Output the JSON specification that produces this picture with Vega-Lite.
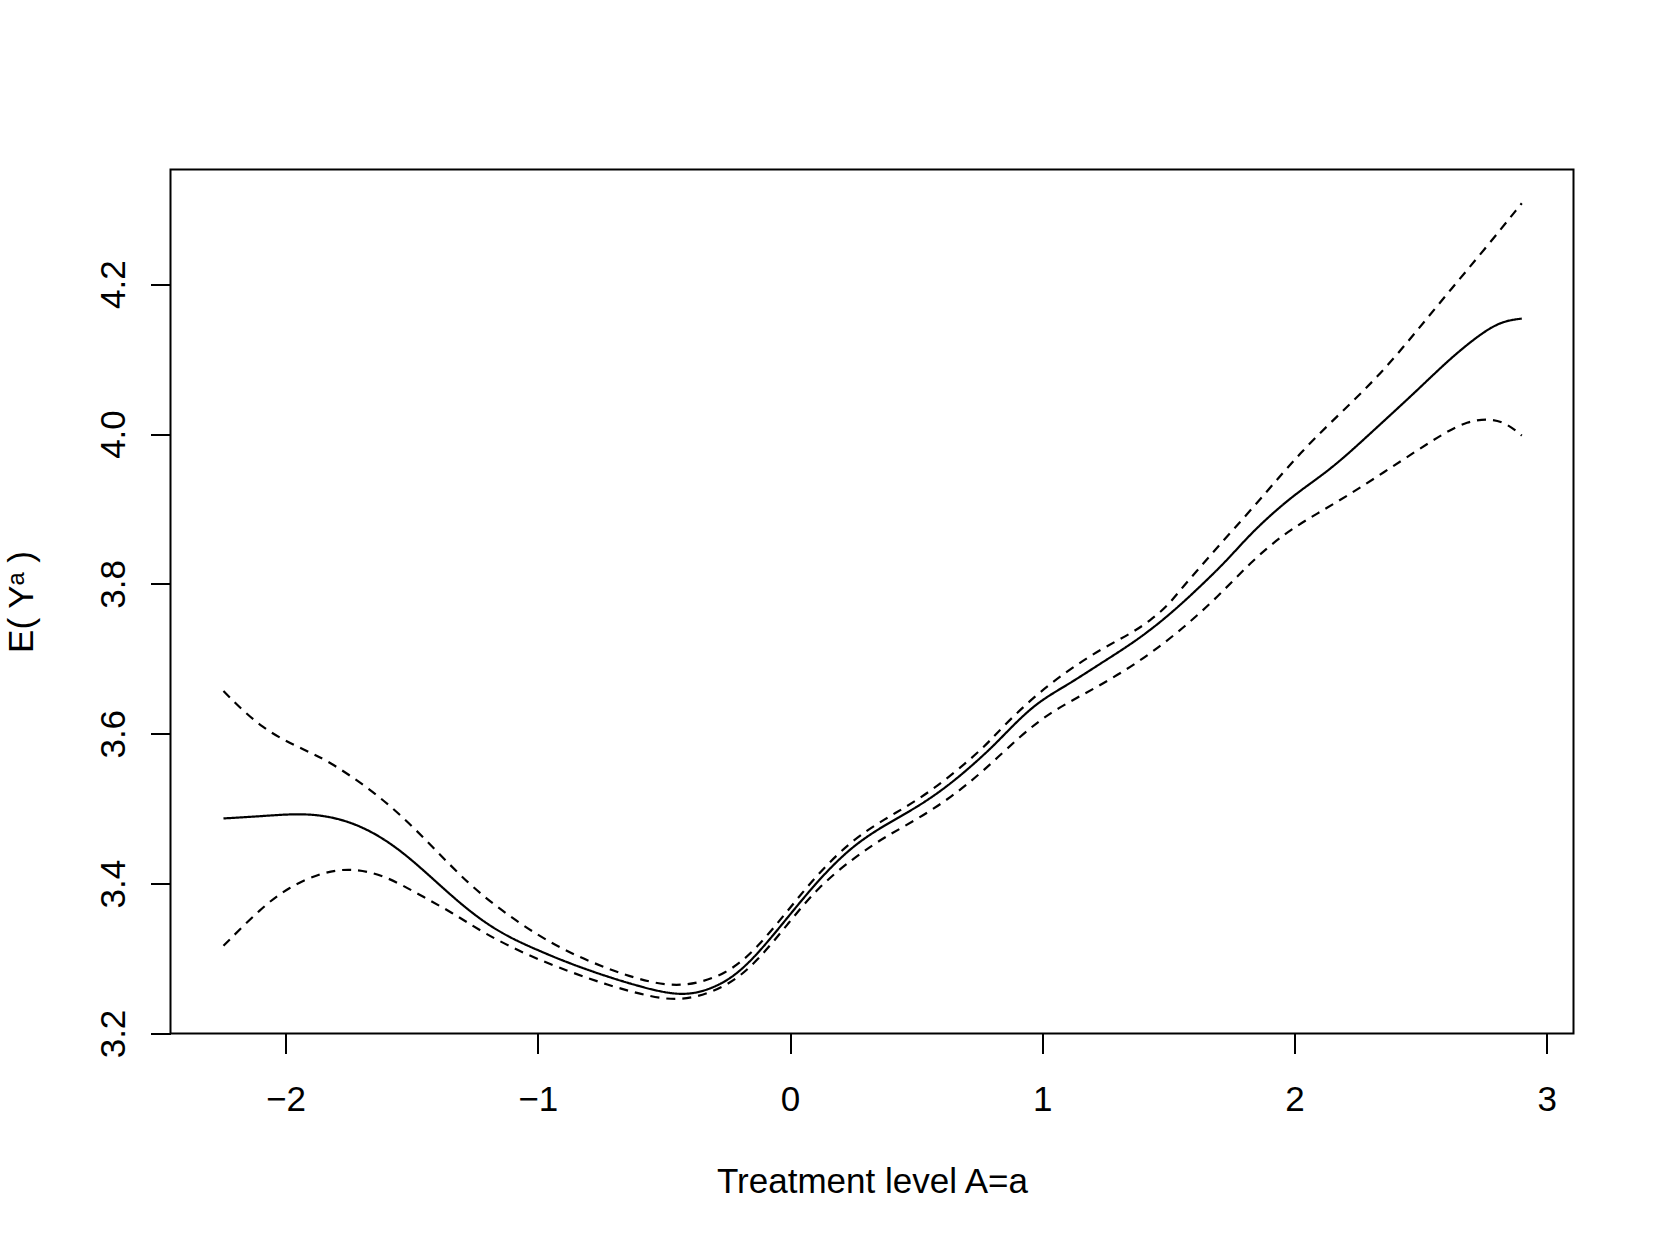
{
  "$schema": "https://vega.github.io/schema/vega-lite/v6.json",
  "width": 1403,
  "height": 864,
  "autosize": "none",
  "padding": {"left": 170.5, "top": 169.5, "right": 87, "bottom": 212},
  "background": "white",
  "config": {
    "font": "Liberation Sans",
    "view": {"stroke": "black", "strokeWidth": 2},
    "axis": {
      "labelFont": "Liberation Sans",
      "titleFont": "Liberation Sans",
      "labelFontSize": 35,
      "titleFontSize": 35,
      "titleFontWeight": "normal",
      "labelColor": "black",
      "titleColor": "black",
      "tickColor": "black",
      "tickWidth": 2,
      "tickSize": 20,
      "domain": false,
      "grid": false,
      "labelFlush": false,
      "labelOverlap": false
    }
  },
  "data": {
    "values": [
      {"a": -2.246, "v": 3.487, "s": "est"},
      {"a": -2.095, "v": 3.49, "s": "est"},
      {"a": -1.937, "v": 3.494, "s": "est"},
      {"a": -1.804, "v": 3.489, "s": "est"},
      {"a": -1.672, "v": 3.473, "s": "est"},
      {"a": -1.54, "v": 3.444, "s": "est"},
      {"a": -1.408, "v": 3.404, "s": "est"},
      {"a": -1.276, "v": 3.364, "s": "est"},
      {"a": -1.144, "v": 3.333, "s": "est"},
      {"a": -1.0, "v": 3.311, "s": "est"},
      {"a": -0.87, "v": 3.293, "s": "est"},
      {"a": -0.735, "v": 3.277, "s": "est"},
      {"a": -0.6, "v": 3.263, "s": "est"},
      {"a": -0.432, "v": 3.249, "s": "est"},
      {"a": -0.313, "v": 3.259, "s": "est"},
      {"a": -0.221, "v": 3.276, "s": "est"},
      {"a": -0.128, "v": 3.306, "s": "est"},
      {"a": -0.009, "v": 3.355, "s": "est"},
      {"a": 0.11, "v": 3.404, "s": "est"},
      {"a": 0.242, "v": 3.449, "s": "est"},
      {"a": 0.374, "v": 3.478, "s": "est"},
      {"a": 0.505, "v": 3.502, "s": "est"},
      {"a": 0.638, "v": 3.533, "s": "est"},
      {"a": 0.77, "v": 3.572, "s": "est"},
      {"a": 0.836, "v": 3.594, "s": "est"},
      {"a": 0.968, "v": 3.64, "s": "est"},
      {"a": 1.1, "v": 3.665, "s": "est"},
      {"a": 1.232, "v": 3.694, "s": "est"},
      {"a": 1.364, "v": 3.722, "s": "est"},
      {"a": 1.496, "v": 3.756, "s": "est"},
      {"a": 1.628, "v": 3.797, "s": "est"},
      {"a": 1.734, "v": 3.832, "s": "est"},
      {"a": 1.826, "v": 3.867, "s": "est"},
      {"a": 1.932, "v": 3.9, "s": "est"},
      {"a": 2.024, "v": 3.925, "s": "est"},
      {"a": 2.156, "v": 3.956, "s": "est"},
      {"a": 2.314, "v": 4.005, "s": "est"},
      {"a": 2.486, "v": 4.058, "s": "est"},
      {"a": 2.617, "v": 4.101, "s": "est"},
      {"a": 2.75, "v": 4.137, "s": "est"},
      {"a": 2.829, "v": 4.151, "s": "est"},
      {"a": 2.901, "v": 4.154, "s": "est"},

      {"a": -2.246, "v": 3.657, "s": "upper"},
      {"a": -2.095, "v": 3.606, "s": "upper"},
      {"a": -1.923, "v": 3.578, "s": "upper"},
      {"a": -1.831, "v": 3.564, "s": "upper"},
      {"a": -1.672, "v": 3.528, "s": "upper"},
      {"a": -1.54, "v": 3.491, "s": "upper"},
      {"a": -1.408, "v": 3.446, "s": "upper"},
      {"a": -1.276, "v": 3.4, "s": "upper"},
      {"a": -1.144, "v": 3.364, "s": "upper"},
      {"a": -1.0, "v": 3.331, "s": "upper"},
      {"a": -0.87, "v": 3.307, "s": "upper"},
      {"a": -0.735, "v": 3.288, "s": "upper"},
      {"a": -0.6, "v": 3.272, "s": "upper"},
      {"a": -0.432, "v": 3.26, "s": "upper"},
      {"a": -0.247, "v": 3.279, "s": "upper"},
      {"a": -0.128, "v": 3.315, "s": "upper"},
      {"a": -0.009, "v": 3.364, "s": "upper"},
      {"a": 0.11, "v": 3.413, "s": "upper"},
      {"a": 0.242, "v": 3.457, "s": "upper"},
      {"a": 0.374, "v": 3.486, "s": "upper"},
      {"a": 0.505, "v": 3.511, "s": "upper"},
      {"a": 0.638, "v": 3.544, "s": "upper"},
      {"a": 0.77, "v": 3.582, "s": "upper"},
      {"a": 0.836, "v": 3.607, "s": "upper"},
      {"a": 0.968, "v": 3.65, "s": "upper"},
      {"a": 1.1, "v": 3.684, "s": "upper"},
      {"a": 1.232, "v": 3.713, "s": "upper"},
      {"a": 1.364, "v": 3.736, "s": "upper"},
      {"a": 1.43, "v": 3.752, "s": "upper"},
      {"a": 1.496, "v": 3.77, "s": "upper"},
      {"a": 1.562, "v": 3.798, "s": "upper"},
      {"a": 1.628, "v": 3.823, "s": "upper"},
      {"a": 1.694, "v": 3.849, "s": "upper"},
      {"a": 1.826, "v": 3.898, "s": "upper"},
      {"a": 1.958, "v": 3.95, "s": "upper"},
      {"a": 2.077, "v": 3.994, "s": "upper"},
      {"a": 2.221, "v": 4.04, "s": "upper"},
      {"a": 2.354, "v": 4.085, "s": "upper"},
      {"a": 2.486, "v": 4.138, "s": "upper"},
      {"a": 2.617, "v": 4.192, "s": "upper"},
      {"a": 2.75, "v": 4.245, "s": "upper"},
      {"a": 2.901, "v": 4.308, "s": "upper"},

      {"a": -2.246, "v": 3.317, "s": "lower"},
      {"a": -2.095, "v": 3.368, "s": "lower"},
      {"a": -1.989, "v": 3.395, "s": "lower"},
      {"a": -1.857, "v": 3.415, "s": "lower"},
      {"a": -1.738, "v": 3.421, "s": "lower"},
      {"a": -1.606, "v": 3.411, "s": "lower"},
      {"a": -1.474, "v": 3.386, "s": "lower"},
      {"a": -1.342, "v": 3.362, "s": "lower"},
      {"a": -1.21, "v": 3.333, "s": "lower"},
      {"a": -1.038, "v": 3.304, "s": "lower"},
      {"a": -0.87, "v": 3.282, "s": "lower"},
      {"a": -0.735, "v": 3.266, "s": "lower"},
      {"a": -0.6, "v": 3.253, "s": "lower"},
      {"a": -0.432, "v": 3.241, "s": "lower"},
      {"a": -0.247, "v": 3.262, "s": "lower"},
      {"a": -0.128, "v": 3.297, "s": "lower"},
      {"a": -0.009, "v": 3.346, "s": "lower"},
      {"a": 0.11, "v": 3.395, "s": "lower"},
      {"a": 0.255, "v": 3.435, "s": "lower"},
      {"a": 0.374, "v": 3.462, "s": "lower"},
      {"a": 0.505, "v": 3.486, "s": "lower"},
      {"a": 0.638, "v": 3.515, "s": "lower"},
      {"a": 0.77, "v": 3.551, "s": "lower"},
      {"a": 0.915, "v": 3.598, "s": "lower"},
      {"a": 1.034, "v": 3.629, "s": "lower"},
      {"a": 1.166, "v": 3.653, "s": "lower"},
      {"a": 1.298, "v": 3.678, "s": "lower"},
      {"a": 1.43, "v": 3.707, "s": "lower"},
      {"a": 1.562, "v": 3.742, "s": "lower"},
      {"a": 1.694, "v": 3.782, "s": "lower"},
      {"a": 1.826, "v": 3.829, "s": "lower"},
      {"a": 1.958, "v": 3.867, "s": "lower"},
      {"a": 2.09, "v": 3.894, "s": "lower"},
      {"a": 2.222, "v": 3.92, "s": "lower"},
      {"a": 2.354, "v": 3.949, "s": "lower"},
      {"a": 2.486, "v": 3.978, "s": "lower"},
      {"a": 2.592, "v": 4.001, "s": "lower"},
      {"a": 2.684, "v": 4.017, "s": "lower"},
      {"a": 2.776, "v": 4.021, "s": "lower"},
      {"a": 2.842, "v": 4.014, "s": "lower"},
      {"a": 2.901, "v": 3.998, "s": "lower"}
    ]
  },
  "mark": {"type": "line", "interpolate": "basis", "color": "black", "strokeWidth": 2.2},
  "encoding": {
    "x": {
      "field": "a",
      "type": "quantitative",
      "scale": {"domain": [-2.456, 3.106], "nice": false, "zero": false},
      "axis": {
        "values": [-2, -1, 0, 1, 2, 3],
        "format": "d",
        "labelBaseline": "alphabetic",
        "labelPadding": 57,
        "title": "Treatment level A=a",
        "titleBaseline": "alphabetic",
        "titleY": 159
      }
    },
    "y": {
      "field": "v",
      "type": "quantitative",
      "scale": {"domain": [3.2, 4.353], "nice": false, "zero": false},
      "axis": {
        "values": [3.2, 3.4, 3.6, 3.8, 4.0, 4.2],
        "format": ".1f",
        "labelAngle": -90,
        "labelAlign": "center",
        "labelBaseline": "alphabetic",
        "labelPadding": 26,
        "title": "E( Yᵃ )",
        "titleAngle": -90,
        "titleBaseline": "alphabetic",
        "titleX": -138.5,
        "titleY": 432
      }
    },
    "detail": {"field": "s", "type": "nominal"},
    "strokeDash": {
      "field": "s",
      "type": "nominal",
      "scale": {"domain": ["est", "lower", "upper"], "range": [[1, 0], [9, 7], [9, 7]]},
      "legend": null
    }
  }
}
